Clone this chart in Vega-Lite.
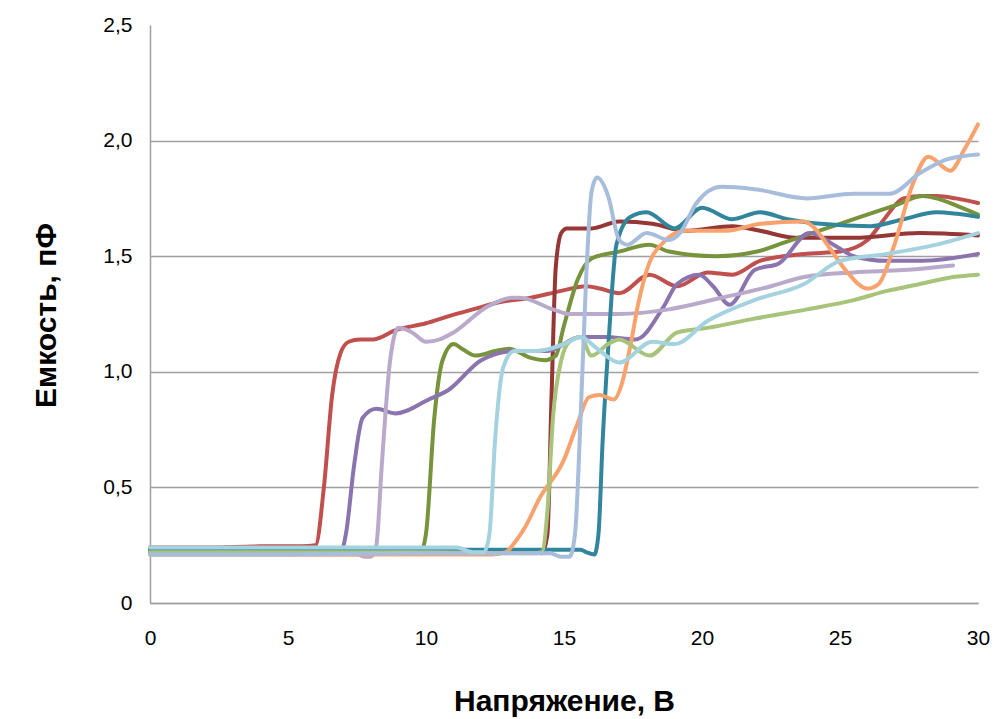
{
  "$schema": "https://vega.github.io/schema/vega-lite/v6.json",
  "width": 828,
  "height": 578,
  "autosize": {"type": "none"},
  "padding": {"left": 150, "top": 25, "right": 28, "bottom": 116},
  "background": "white",
  "config": {
    "view": {"stroke": null},
    "font": "Liberation Sans"
  },
  "data": {
    "values": [
      {"s":"red","x":0,"y":0.24},{"s":"red","x":2,"y":0.24},{"s":"red","x":4,"y":0.245},{"s":"red","x":5.5,"y":0.245},{"s":"red","x":6.0,"y":0.25},{"s":"red","x":6.3,"y":0.5},{"s":"red","x":6.6,"y":0.9},{"s":"red","x":6.9,"y":1.08},{"s":"red","x":7.2,"y":1.13},{"s":"red","x":7.6,"y":1.14},{"s":"red","x":8.1,"y":1.14},{"s":"red","x":8.9,"y":1.18},{"s":"red","x":10,"y":1.21},{"s":"red","x":10.8,"y":1.24},{"s":"red","x":12,"y":1.28},{"s":"red","x":12.6,"y":1.3},{"s":"red","x":13.8,"y":1.32},{"s":"red","x":14.9,"y":1.35},{"s":"red","x":15.8,"y":1.37},{"s":"red","x":16.3,"y":1.36},{"s":"red","x":17,"y":1.34},{"s":"red","x":18.1,"y":1.42},{"s":"red","x":19.1,"y":1.37},{"s":"red","x":20.2,"y":1.43},{"s":"red","x":21.1,"y":1.42},{"s":"red","x":22.1,"y":1.48},{"s":"red","x":23.7,"y":1.51},{"s":"red","x":25,"y":1.52},{"s":"red","x":26,"y":1.57},{"s":"red","x":26.6,"y":1.66},{"s":"red","x":27.3,"y":1.75},{"s":"red","x":28,"y":1.76},{"s":"red","x":28.5,"y":1.76},{"s":"red","x":29.2,"y":1.75},{"s":"red","x":30,"y":1.73},

      {"s":"darkred","x":0,"y":0.22},{"s":"darkred","x":5,"y":0.22},{"s":"darkred","x":10,"y":0.22},{"s":"darkred","x":13.9,"y":0.225},{"s":"darkred","x":14.2,"y":0.215},{"s":"darkred","x":14.4,"y":0.3},{"s":"darkred","x":14.55,"y":0.9},{"s":"darkred","x":14.7,"y":1.45},{"s":"darkred","x":14.9,"y":1.6},{"s":"darkred","x":15.1,"y":1.62},{"s":"darkred","x":16,"y":1.62},{"s":"darkred","x":17,"y":1.65},{"s":"darkred","x":18.2,"y":1.64},{"s":"darkred","x":19.4,"y":1.61},{"s":"darkred","x":21.1,"y":1.63},{"s":"darkred","x":22.1,"y":1.61},{"s":"darkred","x":23.4,"y":1.58},{"s":"darkred","x":25.5,"y":1.58},{"s":"darkred","x":27.9,"y":1.6},{"s":"darkred","x":30,"y":1.59},

      {"s":"green","x":0,"y":0.22},{"s":"green","x":5,"y":0.22},{"s":"green","x":9.8,"y":0.22},{"s":"green","x":10.0,"y":0.3},{"s":"green","x":10.3,"y":0.8},{"s":"green","x":10.6,"y":1.05},{"s":"green","x":11,"y":1.12},{"s":"green","x":11.3,"y":1.1},{"s":"green","x":11.8,"y":1.07},{"s":"green","x":12.5,"y":1.09},{"s":"green","x":13,"y":1.1},{"s":"green","x":13.8,"y":1.06},{"s":"green","x":14.3,"y":1.05},{"s":"green","x":14.7,"y":1.07},{"s":"green","x":15.0,"y":1.2},{"s":"green","x":15.5,"y":1.4},{"s":"green","x":16,"y":1.49},{"s":"green","x":17,"y":1.52},{"s":"green","x":18.1,"y":1.55},{"s":"green","x":18.8,"y":1.52},{"s":"green","x":20.5,"y":1.5},{"s":"green","x":22,"y":1.52},{"s":"green","x":23,"y":1.56},{"s":"green","x":24.5,"y":1.62},{"s":"green","x":25.5,"y":1.66},{"s":"green","x":27,"y":1.72},{"s":"green","x":28,"y":1.76},{"s":"green","x":28.5,"y":1.75},{"s":"green","x":29.2,"y":1.72},{"s":"green","x":30,"y":1.68},

      {"s":"purple","x":0,"y":0.22},{"s":"purple","x":5,"y":0.22},{"s":"purple","x":6.9,"y":0.22},{"s":"purple","x":7.1,"y":0.3},{"s":"purple","x":7.4,"y":0.6},{"s":"purple","x":7.7,"y":0.8},{"s":"purple","x":8.2,"y":0.84},{"s":"purple","x":8.9,"y":0.82},{"s":"purple","x":10.1,"y":0.88},{"s":"purple","x":10.8,"y":0.92},{"s":"purple","x":12,"y":1.05},{"s":"purple","x":13.2,"y":1.09},{"s":"purple","x":14.4,"y":1.09},{"s":"purple","x":15.6,"y":1.15},{"s":"purple","x":16.5,"y":1.15},{"s":"purple","x":17.6,"y":1.14},{"s":"purple","x":18.6,"y":1.28},{"s":"purple","x":19.1,"y":1.38},{"s":"purple","x":19.9,"y":1.42},{"s":"purple","x":20.4,"y":1.37},{"s":"purple","x":21,"y":1.29},{"s":"purple","x":21.9,"y":1.44},{"s":"purple","x":22.8,"y":1.47},{"s":"purple","x":23.9,"y":1.6},{"s":"purple","x":24.9,"y":1.54},{"s":"purple","x":25.5,"y":1.5},{"s":"purple","x":26.7,"y":1.48},{"s":"purple","x":28,"y":1.48},{"s":"purple","x":30,"y":1.51},

      {"s":"lightpurple","x":0,"y":0.21},{"s":"lightpurple","x":5,"y":0.21},{"s":"lightpurple","x":7.5,"y":0.21},{"s":"lightpurple","x":7.8,"y":0.2},{"s":"lightpurple","x":8.0,"y":0.2},{"s":"lightpurple","x":8.2,"y":0.25},{"s":"lightpurple","x":8.4,"y":0.6},{"s":"lightpurple","x":8.7,"y":1.05},{"s":"lightpurple","x":9.0,"y":1.19},{"s":"lightpurple","x":9.5,"y":1.17},{"s":"lightpurple","x":10,"y":1.13},{"s":"lightpurple","x":10.5,"y":1.14},{"s":"lightpurple","x":11,"y":1.17},{"s":"lightpurple","x":12.2,"y":1.28},{"s":"lightpurple","x":13.1,"y":1.32},{"s":"lightpurple","x":13.4,"y":1.32},{"s":"lightpurple","x":14.6,"y":1.27},{"s":"lightpurple","x":15.2,"y":1.25},{"s":"lightpurple","x":17,"y":1.25},{"s":"lightpurple","x":18.8,"y":1.27},{"s":"lightpurple","x":20.7,"y":1.32},{"s":"lightpurple","x":22.5,"y":1.37},{"s":"lightpurple","x":23.7,"y":1.41},{"s":"lightpurple","x":25.5,"y":1.43},{"s":"lightpurple","x":27.3,"y":1.44},{"s":"lightpurple","x":29.1,"y":1.46},

      {"s":"teal","x":0,"y":0.23},{"s":"teal","x":5,"y":0.23},{"s":"teal","x":10,"y":0.23},{"s":"teal","x":15.6,"y":0.23},{"s":"teal","x":15.8,"y":0.22},{"s":"teal","x":16.1,"y":0.21},{"s":"teal","x":16.25,"y":0.3},{"s":"teal","x":16.4,"y":0.7},{"s":"teal","x":16.6,"y":1.1},{"s":"teal","x":16.9,"y":1.55},{"s":"teal","x":17.4,"y":1.67},{"s":"teal","x":18,"y":1.69},{"s":"teal","x":19,"y":1.62},{"s":"teal","x":20,"y":1.71},{"s":"teal","x":21.1,"y":1.66},{"s":"teal","x":22.1,"y":1.69},{"s":"teal","x":23.1,"y":1.66},{"s":"teal","x":24.3,"y":1.64},{"s":"teal","x":26.1,"y":1.63},{"s":"teal","x":27.3,"y":1.66},{"s":"teal","x":28.5,"y":1.69},{"s":"teal","x":30,"y":1.67},

      {"s":"orange","x":0,"y":0.21},{"s":"orange","x":5,"y":0.21},{"s":"orange","x":10,"y":0.21},{"s":"orange","x":12.4,"y":0.21},{"s":"orange","x":12.9,"y":0.22},{"s":"orange","x":13.2,"y":0.26},{"s":"orange","x":13.6,"y":0.33},{"s":"orange","x":14.1,"y":0.45},{"s":"orange","x":15,"y":0.62},{"s":"orange","x":15.5,"y":0.78},{"s":"orange","x":15.9,"y":0.89},{"s":"orange","x":16.3,"y":0.9},{"s":"orange","x":16.8,"y":0.88},{"s":"orange","x":17.1,"y":0.95},{"s":"orange","x":17.4,"y":1.11},{"s":"orange","x":17.7,"y":1.3},{"s":"orange","x":18,"y":1.44},{"s":"orange","x":18.6,"y":1.56},{"s":"orange","x":19.4,"y":1.61},{"s":"orange","x":20.9,"y":1.61},{"s":"orange","x":22.1,"y":1.64},{"s":"orange","x":23.7,"y":1.65},{"s":"orange","x":24,"y":1.63},{"s":"orange","x":24.6,"y":1.54},{"s":"orange","x":25.2,"y":1.44},{"s":"orange","x":26,"y":1.36},{"s":"orange","x":26.4,"y":1.38},{"s":"orange","x":27,"y":1.56},{"s":"orange","x":27.6,"y":1.8},{"s":"orange","x":28.2,"y":1.93},{"s":"orange","x":29,"y":1.87},{"s":"orange","x":29.5,"y":1.96},{"s":"orange","x":30,"y":2.07},

      {"s":"lightgreen","x":0,"y":0.22},{"s":"lightgreen","x":5,"y":0.22},{"s":"lightgreen","x":10,"y":0.22},{"s":"lightgreen","x":13.9,"y":0.215},{"s":"lightgreen","x":14.2,"y":0.22},{"s":"lightgreen","x":14.4,"y":0.4},{"s":"lightgreen","x":14.6,"y":0.8},{"s":"lightgreen","x":14.9,"y":1.05},{"s":"lightgreen","x":15.2,"y":1.13},{"s":"lightgreen","x":15.6,"y":1.15},{"s":"lightgreen","x":16,"y":1.07},{"s":"lightgreen","x":16.6,"y":1.12},{"s":"lightgreen","x":17,"y":1.14},{"s":"lightgreen","x":18.1,"y":1.07},{"s":"lightgreen","x":19.1,"y":1.17},{"s":"lightgreen","x":20.2,"y":1.19},{"s":"lightgreen","x":21.9,"y":1.23},{"s":"lightgreen","x":23.8,"y":1.27},{"s":"lightgreen","x":25.5,"y":1.31},{"s":"lightgreen","x":26.7,"y":1.35},{"s":"lightgreen","x":27.9,"y":1.38},{"s":"lightgreen","x":29.1,"y":1.41},{"s":"lightgreen","x":30,"y":1.42},

      {"s":"bluegray","x":0,"y":0.21},{"s":"bluegray","x":5,"y":0.21},{"s":"bluegray","x":10,"y":0.215},{"s":"bluegray","x":14.5,"y":0.215},{"s":"bluegray","x":14.9,"y":0.2},{"s":"bluegray","x":15.2,"y":0.2},{"s":"bluegray","x":15.4,"y":0.3},{"s":"bluegray","x":15.6,"y":0.8},{"s":"bluegray","x":15.8,"y":1.4},{"s":"bluegray","x":16.0,"y":1.78},{"s":"bluegray","x":16.2,"y":1.84},{"s":"bluegray","x":16.6,"y":1.76},{"s":"bluegray","x":17,"y":1.57},{"s":"bluegray","x":17.3,"y":1.55},{"s":"bluegray","x":18,"y":1.6},{"s":"bluegray","x":18.8,"y":1.57},{"s":"bluegray","x":19.2,"y":1.6},{"s":"bluegray","x":19.8,"y":1.73},{"s":"bluegray","x":20.7,"y":1.8},{"s":"bluegray","x":21.9,"y":1.79},{"s":"bluegray","x":23.8,"y":1.75},{"s":"bluegray","x":25.5,"y":1.77},{"s":"bluegray","x":26.8,"y":1.77},{"s":"bluegray","x":27.9,"y":1.86},{"s":"bluegray","x":28.9,"y":1.92},{"s":"bluegray","x":30,"y":1.94},

      {"s":"lightblue","x":0,"y":0.24},{"s":"lightblue","x":5,"y":0.24},{"s":"lightblue","x":10,"y":0.24},{"s":"lightblue","x":11.1,"y":0.24},{"s":"lightblue","x":11.7,"y":0.22},{"s":"lightblue","x":12.1,"y":0.22},{"s":"lightblue","x":12.3,"y":0.3},{"s":"lightblue","x":12.5,"y":0.7},{"s":"lightblue","x":12.8,"y":1.02},{"s":"lightblue","x":13.2,"y":1.09},{"s":"lightblue","x":14,"y":1.09},{"s":"lightblue","x":15,"y":1.12},{"s":"lightblue","x":15.6,"y":1.15},{"s":"lightblue","x":16.2,"y":1.1},{"s":"lightblue","x":17,"y":1.04},{"s":"lightblue","x":18.2,"y":1.13},{"s":"lightblue","x":19,"y":1.12},{"s":"lightblue","x":20.2,"y":1.22},{"s":"lightblue","x":21.9,"y":1.31},{"s":"lightblue","x":23.7,"y":1.38},{"s":"lightblue","x":25,"y":1.48},{"s":"lightblue","x":26.7,"y":1.51},{"s":"lightblue","x":28.5,"y":1.55},{"s":"lightblue","x":30,"y":1.6}
    ]
  },
  "mark": {"type": "line", "strokeWidth": 4, "interpolate": "monotone", "strokeCap": "round", "strokeJoin": "round"},
  "encoding": {
    "x": {
      "field": "x", "type": "quantitative",
      "scale": {"domain": [0, 30], "nice": false},
      "axis": {
        "values": [0, 5, 10, 15, 20, 25, 30],
        "title": "Напряжение, В",
        "grid": false,
        "ticks": false,
        "domainColor": "#A0A0A0",
        "domainWidth": 1.5,
        "labelFont": "Liberation Sans",
        "labelFontSize": 21,
        "labelColor": "#000000",
        "labelPadding": 24,
        "labelFlush": false,
        "titleFont": "Liberation Sans",
        "titleFontSize": 30,
        "titleFontWeight": "bold",
        "titleColor": "#000000",
        "titleBaseline": "alphabetic",
        "titleY": 107
      }
    },
    "y": {
      "field": "y", "type": "quantitative",
      "scale": {"domain": [0, 2.5], "nice": false},
      "axis": {
        "values": [0, 0.5, 1, 1.5, 2, 2.5],
        "labelExpr": "datum.value == 0 ? '0' : replace(format(datum.value, '.1f'), '.', ',')",
        "title": "Емкость, пФ",
        "grid": true,
        "gridColor": {"condition": {"test": "datum.value >= 2.5", "value": "transparent"}, "value": "#A0A0A0"},
        "gridWidth": 1.5,
        "ticks": false,
        "domainColor": "#A0A0A0",
        "domainWidth": 1.5,
        "labelFont": "Liberation Sans",
        "labelFontSize": 21,
        "labelColor": "#000000",
        "labelPadding": 18,
        "labelFlush": false,
        "titleFont": "Liberation Sans",
        "titleFontSize": 30,
        "titleFontWeight": "bold",
        "titleColor": "#000000",
        "titleAngle": 270,
        "titleBaseline": "alphabetic",
        "titleAlign": "center",
        "titleX": -95,
        "titleY": 290
      }
    },
    "color": {
      "field": "s", "type": "nominal", "legend": null,
      "scale": {
        "domain": ["red","darkred","green","purple","lightpurple","teal","orange","lightgreen","bluegray","lightblue"],
        "range": ["#C0504D","#953735","#77933C","#8B74AE","#B9AACB","#31859C","#F8A36E","#A8C47A","#A7BDDB","#A5D2DF"]
      }
    }
  }
}
